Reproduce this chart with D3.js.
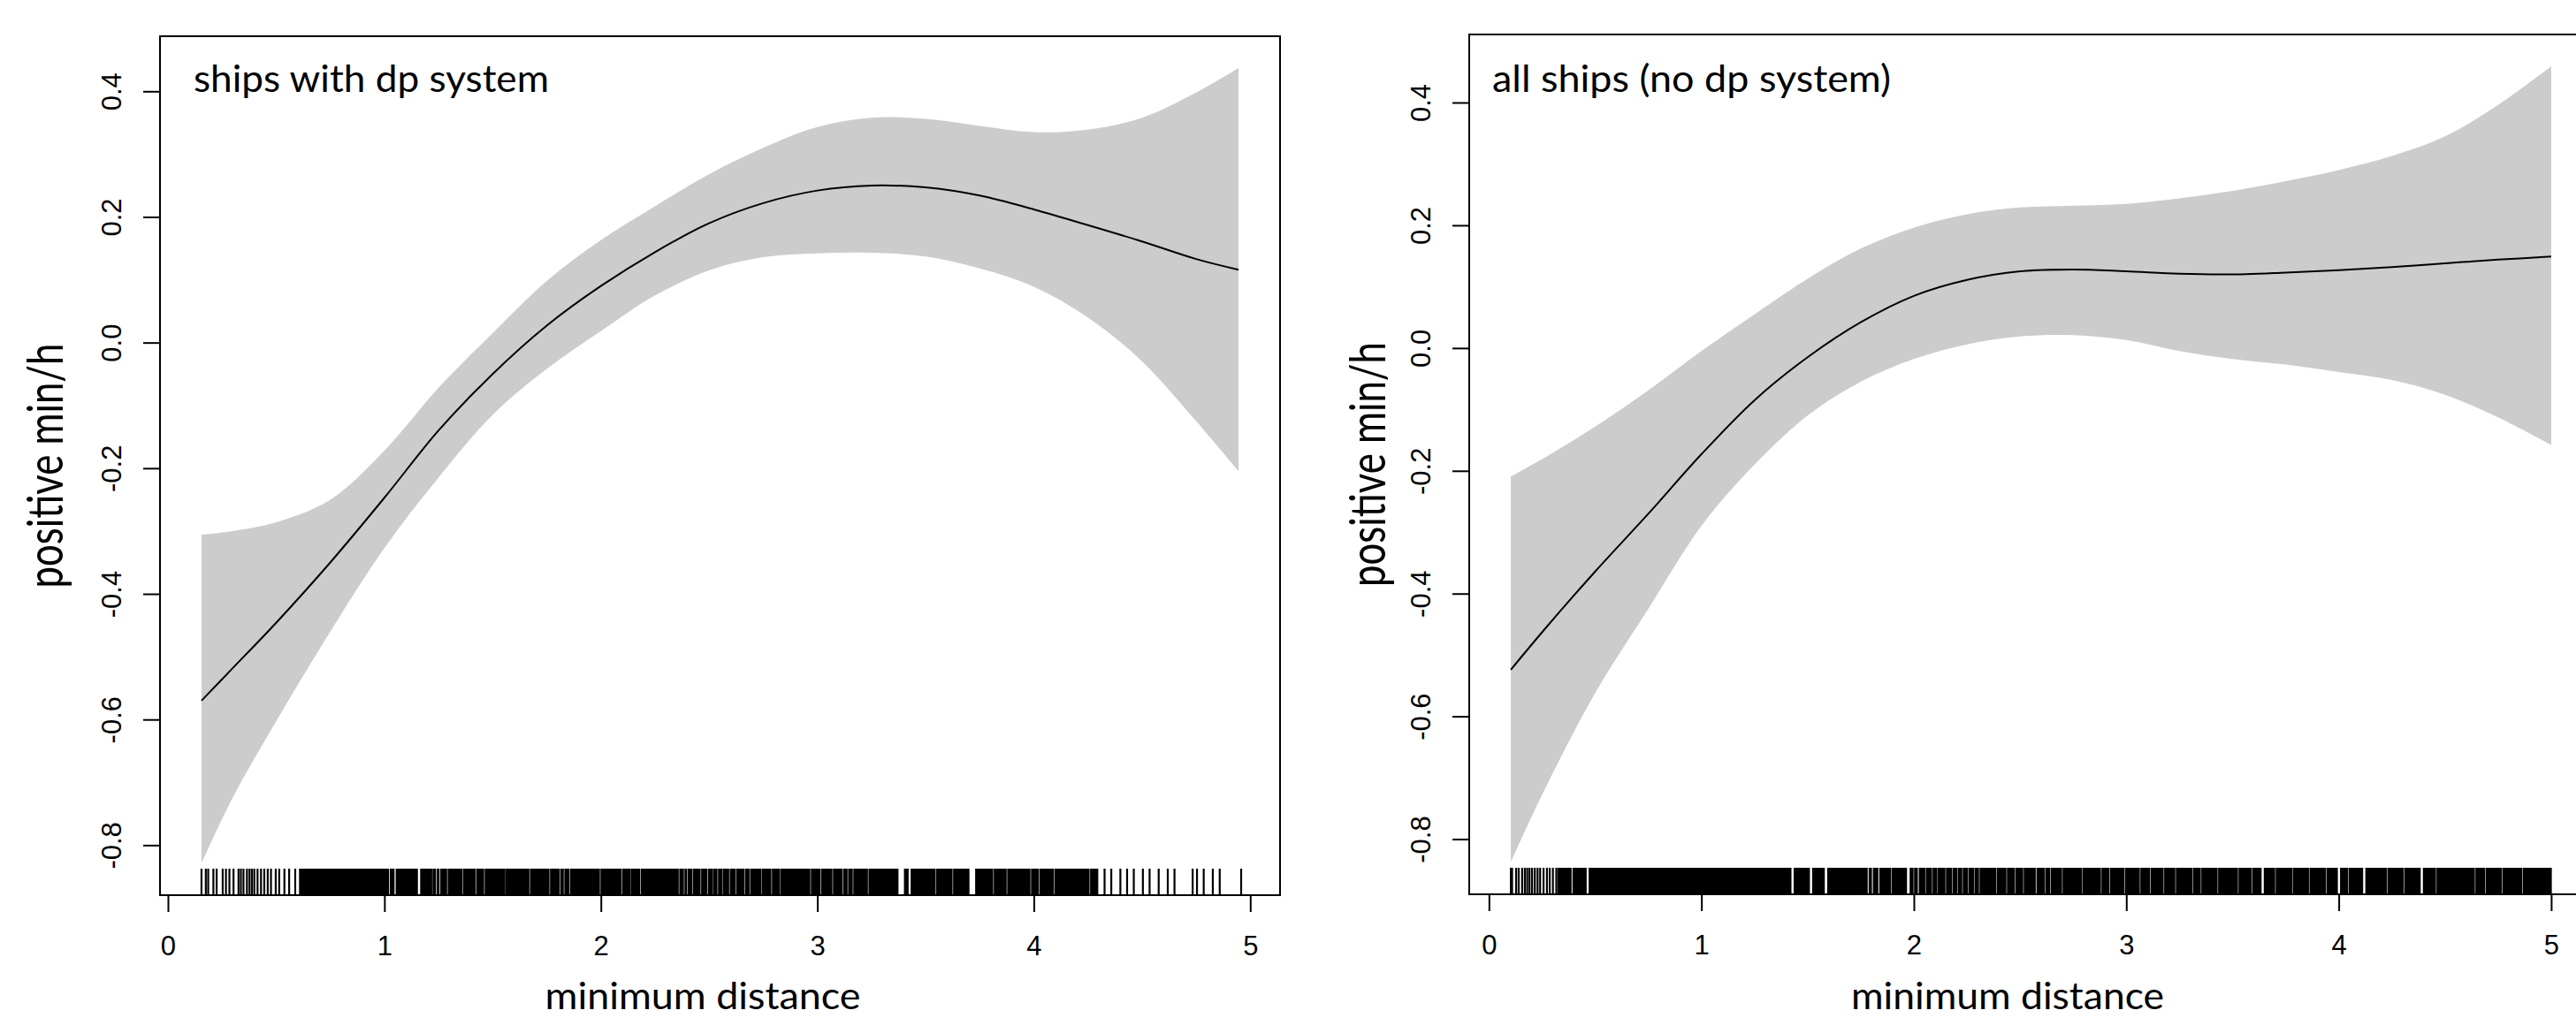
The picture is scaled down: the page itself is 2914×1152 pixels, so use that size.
<!DOCTYPE html>
<html>
<head>
<meta charset="utf-8">
<script src="https://cdn.jsdelivr.net/npm/d3@7"></script>
<style>
  body { margin: 0; background: #fff; }
  .tick text { font-family: "Liberation Sans", Arial, sans-serif; font-size: 31px; fill: #000; }
  .lab { font-family: Lato, "Open Sans", sans-serif; fill: #000; }
</style>
</head>
<body>
<div id="vis"></div>
<script>
const WIDTH = 2914, HEIGHT = 1152;

const xTicks = [0, 1, 2, 3, 4, 5];
const yTicks = [-0.8, -0.6, -0.4, -0.2, 0.0, 0.2, 0.4];

// ships with dp system
const distDP  = [0.155, 0.3, 0.5, 0.75, 1.0, 1.25, 1.5, 1.75, 2.0, 2.25, 2.5, 2.75, 3.0, 3.25, 3.5, 3.75, 4.0, 4.25, 4.5, 4.75, 4.946];
const fitDP   = [-0.570, -0.518, -0.446, -0.350, -0.247, -0.140, -0.050, 0.027, 0.090, 0.144, 0.190, 0.222, 0.242, 0.250, 0.247, 0.234, 0.212, 0.187, 0.161, 0.133, 0.116];
const upperDP = [-0.306, -0.300, -0.286, -0.250, -0.172, -0.072, 0.015, 0.098, 0.163, 0.217, 0.268, 0.310, 0.343, 0.358, 0.356, 0.345, 0.335, 0.339, 0.358, 0.398, 0.437];
const lowerDP = [-0.829, -0.724, -0.603, -0.460, -0.327, -0.215, -0.115, -0.042, 0.018, 0.075, 0.115, 0.136, 0.142, 0.143, 0.137, 0.118, 0.089, 0.040, -0.030, -0.125, -0.205];
// rug: single observations and dense runs of observations
const rugTicksDP = [0.155, 0.175, 0.186, 0.210, 0.225, 0.253, 0.268, 0.284, 0.303, 0.326, 0.337, 0.349, 0.365, 0.377,
  0.388, 0.399, 0.414, 0.430, 0.445, 0.461, 0.476, 0.498, 0.514, 0.538, 0.560, 0.588, 0.610,
  4.327, 4.358, 4.400, 4.431, 4.462, 4.504, 4.535, 4.577, 4.619, 4.650, 4.734, 4.754, 4.785, 4.827, 4.859, 4.958];
const rugSpansDP = [[0.613, 1.019], [1.028, 1.044], [1.055, 1.152], [1.168, 1.218], [1.225, 1.236], [1.245, 1.252],
  [1.261, 1.287], [1.295, 1.357], [1.365, 1.419], [1.427, 1.458], [1.466, 1.556], [1.562, 1.667], [1.675, 1.760],
  [1.768, 1.807], [1.815, 1.826], [1.834, 1.853], [1.861, 1.993], [2.001, 2.094], [2.102, 2.133], [2.140, 2.179],
  [2.187, 2.357], [2.365, 2.381], [2.389, 2.396], [2.404, 2.419], [2.427, 2.458], [2.466, 2.489], [2.497, 2.513],
  [2.520, 2.536], [2.544, 2.559], [2.566, 2.590], [2.598, 2.621], [2.629, 2.660], [2.668, 2.684], [2.692, 2.739],
  [2.746, 2.785], [2.793, 2.825], [2.832, 2.965], [2.973, 3.012], [3.020, 3.067], [3.075, 3.114], [3.122, 3.137],
  [3.145, 3.161], [3.169, 3.231], [3.239, 3.372], [3.403, 3.419], [3.434, 3.544], [3.552, 3.622], [3.630, 3.700],
  [3.732, 3.810], [3.818, 3.872], [3.880, 3.982], [3.990, 4.021], [4.029, 4.091], [4.099, 4.255], [4.263, 4.295]];

// all ships (no dp system)
const distAll  = [0.103, 0.25, 0.5, 0.75, 1.0, 1.25, 1.5, 1.75, 2.0, 2.25, 2.5, 2.75, 3.0, 3.25, 3.5, 3.75, 4.0, 4.25, 4.5, 4.75, 5.0];
const fitAll   = [-0.524, -0.463, -0.364, -0.270, -0.173, -0.085, -0.015, 0.042, 0.085, 0.111, 0.125, 0.128, 0.125, 0.121, 0.120, 0.123, 0.127, 0.132, 0.138, 0.144, 0.149];
const upperAll = [-0.2095, -0.181, -0.128, -0.069, -0.005, 0.055, 0.113, 0.162, 0.196, 0.218, 0.229, 0.232, 0.235, 0.244, 0.256, 0.272, 0.290, 0.313, 0.345, 0.396, 0.459];
const lowerAll = [-0.838, -0.728, -0.562, -0.425, -0.290, -0.190, -0.110, -0.055, -0.018, 0.006, 0.019, 0.021, 0.013, -0.005, -0.018, -0.027, -0.039, -0.052, -0.076, -0.113, -0.158];
const rugTicksAll = [0.103, 0.109, 0.128, 0.140, 0.156, 0.169, 0.180, 0.191, 0.203, 0.216, 0.229, 0.241, 0.257, 0.273, 0.286, 0.301, 0.317];
const rugSpansAll = [[0.325, 0.386], [0.396, 0.457], [0.472, 1.421], [1.437, 1.508], [1.524, 1.578], [1.595, 1.760],
  [1.765, 1.780], [1.790, 1.800], [1.810, 1.830], [1.840, 1.860], [1.865, 1.890], [1.898, 1.965], [1.983, 1.996],
  [2.004, 2.016], [2.026, 2.051], [2.059, 2.083], [2.091, 2.107], [2.114, 2.146], [2.154, 2.178], [2.186, 2.201],
  [2.209, 2.225], [2.233, 2.253], [2.261, 2.280], [2.288, 2.304], [2.312, 2.328], [2.331, 2.386], [2.394, 2.433],
  [2.441, 2.473], [2.481, 2.512], [2.520, 2.571], [2.580, 2.615], [2.623, 2.639], [2.647, 2.695], [2.703, 2.790],
  [2.798, 2.878], [2.886, 2.918], [2.926, 2.989], [2.997, 3.061], [3.069, 3.109], [3.117, 3.173], [3.181, 3.228],
  [3.236, 3.308], [3.316, 3.348], [3.356, 3.427], [3.435, 3.523], [3.531, 3.587], [3.595, 3.634], [3.650, 3.698],
  [3.706, 3.778], [3.786, 3.857], [3.865, 3.937], [3.945, 3.993], [4.009, 4.041], [4.049, 4.112], [4.128, 4.224],
  [4.232, 4.303], [4.311, 4.383], [4.399, 4.455], [4.463, 4.638], [4.646, 4.686], [4.694, 4.765], [4.773, 4.861],
  [4.869, 5.0]];

const xLabel = "minimum distance";
const yLabel = "positive min/h";

const panels = [
  {title: "ships with dp system", dist: distDP, fit: fitDP, upper: upperDP, lower: lowerDP,
   rugTicks: rugTicksDP, rugSpans: rugSpansDP,
   left: 181, right: 1448, top: 41, bottom: 1013,
   titleX: 219, titleLen: 402, xLabX: 795, xLabLen: 357, yLabX: 71},
  {title: "all ships (no dp system)", dist: distAll, fit: fitAll, upper: upperAll, lower: lowerAll,
   rugTicks: rugTicksAll, rugSpans: rugSpansAll,
   left: 1662, right: 2933, top: 39, bottom: 1012,
   titleX: 1688, titleLen: 451, xLabX: 2271, xLabLen: 354, yLabX: 1567}
];

const svg = d3.select("#vis")
  .append("svg")
    .attr("width", WIDTH)
    .attr("height", HEIGHT);

// R style limits: data range plus 4% on each side
function padded(lo, hi) {
  const p = (hi - lo) * 0.04;
  return [lo - p, hi + p];
}

panels.forEach(p => {
  const X_SCALE = d3.scaleLinear()
    .domain(padded(d3.min(p.dist), d3.max(p.dist)))
    .range([p.left, p.right]);
  const Y_SCALE = d3.scaleLinear()
    .domain(padded(d3.min(p.lower), d3.max(p.upper)))
    .range([p.bottom, p.top]);

  const g = svg.append("g");
  const rows = p.dist.map((d, i) => ({x: d, fit: p.fit[i], lo: p.lower[i], hi: p.upper[i]}));

  const band = d3.area()
    .x(d => X_SCALE(d.x))
    .y0(d => Y_SCALE(d.lo))
    .y1(d => Y_SCALE(d.hi))
    .curve(d3.curveCatmullRom.alpha(0.5));
  g.append("path").datum(rows)
    .attr("d", band)
    .attr("fill", "#cccccc");

  const line = d3.line()
    .x(d => X_SCALE(d.x))
    .y(d => Y_SCALE(d.fit))
    .curve(d3.curveCatmullRom.alpha(0.5));
  g.append("path").datum(rows)
    .attr("d", line)
    .attr("fill", "none")
    .attr("stroke", "#000")
    .attr("stroke-width", 2);

  // rug
  const rugH = 30;
  g.selectAll(null).data(p.rugSpans).enter()
    .append("rect")
      .attr("x", d => X_SCALE(d[0]) - 0.7)
      .attr("width", d => X_SCALE(d[1]) - X_SCALE(d[0]) + 1.4)
      .attr("y", p.bottom - rugH)
      .attr("height", rugH)
      .attr("fill", "#000");
  g.selectAll(null).data(p.rugTicks).enter()
    .append("line")
      .attr("x1", d => X_SCALE(d)).attr("x2", d => X_SCALE(d))
      .attr("y1", p.bottom - rugH).attr("y2", p.bottom)
      .attr("stroke", "#000")
      .attr("stroke-width", 2.2);

  // box
  g.append("rect")
    .attr("x", p.left).attr("y", p.top)
    .attr("width", p.right - p.left).attr("height", p.bottom - p.top)
    .attr("fill", "none")
    .attr("stroke", "#000")
    .attr("stroke-width", 2);

  // axes
  const xAxis = d3.axisBottom(X_SCALE)
    .tickValues(xTicks)
    .tickFormat(d3.format("d"))
    .tickSize(19)
    .tickSizeOuter(0);
  const gx = g.append("g")
    .attr("transform", `translate(0,${p.bottom})`)
    .call(xAxis);
  gx.select(".domain").remove();
  gx.selectAll(".tick line").attr("stroke", "#000").attr("stroke-width", 2);
  gx.selectAll(".tick text").attr("y", 68).attr("dy", 0);

  const yAxis = d3.axisLeft(Y_SCALE)
    .tickValues(yTicks)
    .tickFormat(d3.format(".1f"))
    .tickSize(19)
    .tickSizeOuter(0);
  const gy = g.append("g")
    .attr("transform", `translate(${p.left},0)`)
    .call(yAxis);
  gy.select(".domain").remove();
  gy.selectAll(".tick line").attr("stroke", "#000").attr("stroke-width", 2);
  gy.selectAll(".tick text")
    .attr("x", 0).attr("dy", 0)
    .attr("text-anchor", "middle")
    .attr("transform", "translate(-44,0) rotate(-90)")
    .text(d => d3.format(".1f")(d).replace("−", "-"));

  // texts
  g.append("text").attr("class", "lab")
    .attr("x", p.titleX).attr("y", 104)
    .attr("font-size", 43)
    .attr("textLength", p.titleLen).attr("lengthAdjust", "spacingAndGlyphs")
    .text(p.title);

  g.append("text").attr("class", "lab")
    .attr("x", p.xLabX).attr("y", 1142)
    .attr("text-anchor", "middle")
    .attr("font-size", 43)
    .attr("textLength", p.xLabLen).attr("lengthAdjust", "spacingAndGlyphs")
    .text(xLabel);

  g.append("text").attr("class", "lab")
    .attr("transform", `translate(${p.yLabX},${(p.top + p.bottom) / 2}) rotate(-90)`)
    .attr("text-anchor", "middle")
    .attr("font-size", 56)
    .attr("textLength", 277).attr("lengthAdjust", "spacingAndGlyphs")
    .text(yLabel);
});
</script>
</body>
</html>
